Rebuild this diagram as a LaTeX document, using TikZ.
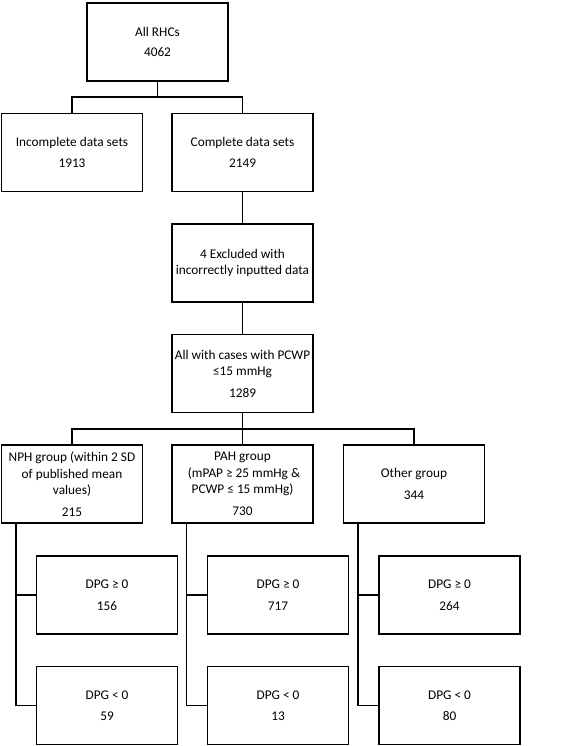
\documentclass[tikz,border=0pt]{standalone}
\usepackage{fontspec}
\setmainfont{Carlito}
\begin{document}
\begin{tikzpicture}[x=1pt,y=-1pt,
  box/.style={draw, line width=1.8pt, minimum width=141pt, minimum height=78pt, inner sep=1pt, align=center, font=\fontsize{13.3}{16.5}\selectfont},
  conn/.style={line width=1.8pt}]
\useasboundingbox (0,0) rectangle (576,746);
\node[box] (top) at (157.5,42) {All RHCs\\[4pt]4062};
\node[box] (inc) at (72,152.5) {Incomplete data sets\\[4pt]1913};
\node[box] (comp) at (242.5,152.5) {Complete data sets\\[4pt]2149};
\node[box] (excl) at (242.5,263) {4 Excluded with\\incorrectly inputted data};
\node[box] (pcwp) at (242.5,373.5) {All with cases with PCWP\\≤15 mmHg\\[5pt]1289};
\node[box] (nph) at (72,484) {NPH group (within 2 SD\\of published mean\\values)\\[5pt]215};
\node[box] (pah) at (242.5,484) {PAH group\\\ (mPAP ≥ 25 mmHg \&\\PCWP ≤ 15 mmHg)\\[5pt]730};
\node[box] (oth) at (414,484) {Other group\\[5pt]344};
\node[box] (d1a) at (107,595) {DPG ≥ 0\\[5pt]156};
\node[box] (d1b) at (107,705.5) {DPG < 0\\[5pt]59};
\node[box] (d2a) at (278,595) {DPG ≥ 0\\[5pt]717};
\node[box] (d2b) at (278,705.5) {DPG < 0\\[5pt]13};
\node[box] (d3a) at (449.5,595) {DPG ≥ 0\\[5pt]264};
\node[box] (d3b) at (449.5,705.5) {DPG < 0\\[5pt]80};
\coordinate (b1) at (0,97);
\coordinate (b2) at (0,429);
\draw[conn] (top.south) -- (top.south |- b1);
\draw[conn] (inc.north) -- (inc.north |- b1) -- (comp.north |- b1) -- (comp.north);
\draw[conn] (comp.south) -- (excl.north);
\draw[conn] (excl.south) -- (pcwp.north);
\draw[conn] (pcwp.south) -- (pcwp.south |- b2);
\draw[conn] (nph.north) -- (nph.north |- b2) -- (oth.north |- b2) -- (oth.north);
\draw[conn] (pah.north) -- (pah.north |- b2);
\foreach \g/\a/\b in {nph/d1a/d1b, pah/d2a/d2b, oth/d3a/d3b} {
  \draw[conn] ([xshift=-56pt]\g.south) |- (\b.west);
  \draw[conn] ([xshift=-56pt]\g.south |- \a.west) -- (\a.west);
}
\end{tikzpicture}
\end{document}
